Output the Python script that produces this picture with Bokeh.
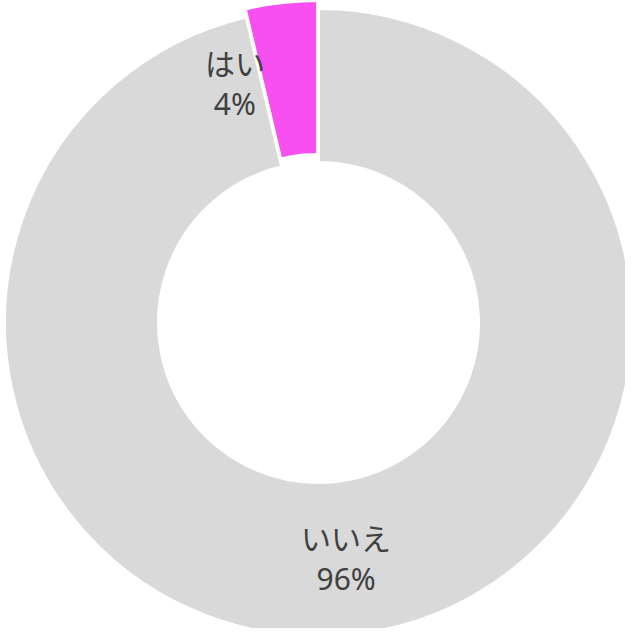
import math
from bokeh.plotting import figure
from bokeh.models import Range1d, ColumnDataSource
from bokeh.core.properties import value
from bokeh.embed import file_html
from bokeh.resources import INLINE

# ---- data ----
categories = ["はい", "いいえ"]
shares = [3.7, 96.3]
colors = ["#f74ff0", "#d9d9d9"]
explode = [8, 0]

# ---- layout (pixels) ----
W, H = 625, 628
cx, cy = 318, 306          # donut centre in plot pixels (y up)
r_out, r_in = 314, 160
label_r = 238

p = figure(width=W, height=H, output_backend="svg", toolbar_location=None,
           x_range=Range1d(0, W), y_range=Range1d(0, H), min_border=0)
p.axis.visible = False
p.grid.visible = False
p.outline_line_color = None
p.background_fill_color = "white"

total = sum(shares)
start = math.pi / 2
xs, ys, starts, ends, mids = [], [], [], [], []
for s, e in zip(shares, explode):
    span = 2 * math.pi * s / total
    mid = start + span / 2
    xs.append(cx + e * math.cos(mid))
    ys.append(cy + e * math.sin(mid))
    starts.append(start)
    ends.append(start + span)
    mids.append(mid)
    start += span

src = ColumnDataSource(dict(x=xs, y=ys, start=starts, end=ends, color=colors))
p.annular_wedge(x="x", y="y", inner_radius=r_in, outer_radius=r_out,
                start_angle="start", end_angle="end", direction="anticlock",
                fill_color="color", line_color="white", line_width=3, source=src)

# label positions: along bisector, small label nudged left to stay readable
pcts = [f"{round(s)}%" for s in shares]
lx, ly = [], []
for i, m in enumerate(mids):
    x = cx + label_r * math.cos(m)
    y = cy + label_r * math.sin(m)
    if i == 0:
        x -= 56
        y += 3
    lx.append(x)
    ly.append(y)

lab = ColumnDataSource(dict(x=lx, y=[v + 20 for v in ly], t=categories))
pct = ColumnDataSource(dict(x=lx, y=[v - 20 for v in ly], t=pcts))
for s in (lab, pct):
    p.text(x="x", y="y", text="t", source=s, text_align="center",
           text_baseline="middle",
           text_font=value("'Noto Sans', 'Noto Sans CJK JP', sans-serif"),
           text_font_size="30px", text_color="#404040")

open("out.html", "w").write(file_html(p, INLINE))
